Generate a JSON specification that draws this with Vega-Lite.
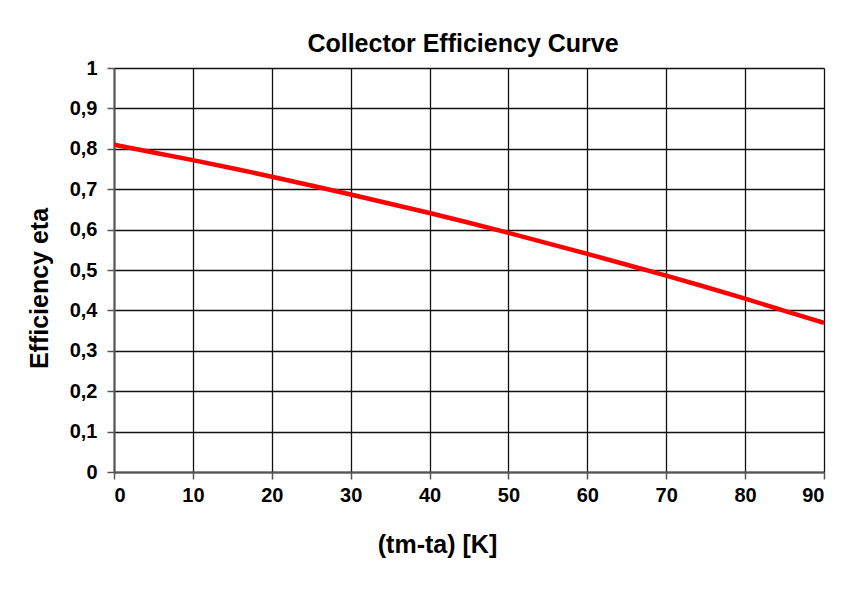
{
  "$schema": "https://vega.github.io/schema/vega-lite/v6.json",
  "autosize": {"type": "none"},
  "width": 710,
  "height": 404,
  "padding": {"left": 114, "top": 68, "right": 24, "bottom": 129},
  "background": "white",
  "title": {
    "text": "Collector Efficiency Curve",
    "font": "Liberation Sans",
    "fontSize": 25,
    "fontWeight": "bold",
    "color": "black",
    "anchor": "middle",
    "dx": -6,
    "offset": 1
  },
  "config": {
    "view": {"stroke": null},
    "axis": {
      "labelFont": "Liberation Sans",
      "labelFontWeight": "bold",
      "labelColor": "black",
      "titleFont": "Liberation Sans",
      "titleFontSize": 25,
      "titleFontWeight": "bold",
      "titleColor": "black",
      "gridColor": "#111111",
      "gridWidth": 1.3,
      "gridOpacity": 1,
      "tickColor": "#555555",
      "tickWidth": 1.5,
      "tickSize": 7,
      "domainColor": "#555555",
      "domainWidth": 2
    }
  },
  "data": {
    "values": [
      {"dt": 0, "eta": 0.810},
      {"dt": 5, "eta": 0.791},
      {"dt": 10, "eta": 0.772},
      {"dt": 15, "eta": 0.752},
      {"dt": 20, "eta": 0.731},
      {"dt": 25, "eta": 0.709},
      {"dt": 30, "eta": 0.687},
      {"dt": 35, "eta": 0.664},
      {"dt": 40, "eta": 0.641},
      {"dt": 45, "eta": 0.617},
      {"dt": 50, "eta": 0.592},
      {"dt": 55, "eta": 0.566},
      {"dt": 60, "eta": 0.540},
      {"dt": 65, "eta": 0.513},
      {"dt": 70, "eta": 0.486},
      {"dt": 75, "eta": 0.458},
      {"dt": 80, "eta": 0.429},
      {"dt": 85, "eta": 0.399},
      {"dt": 90, "eta": 0.369}
    ]
  },
  "mark": {"type": "line", "color": "#ff0000", "strokeWidth": 4.5, "clip": true},
  "encoding": {
    "x": {
      "field": "dt",
      "type": "quantitative",
      "scale": {"domain": [0, 90], "nice": false},
      "axis": {
        "title": "(tm-ta) [K]",
        "values": [0, 10, 20, 30, 40, 50, 60, 70, 80, 90],
        "labelFontSize": 20,
        "labelPadding": 6,
        "titleX": 323,
        "titleY": 72,
        "titleBaseline": "middle",
        "titleAnchor": null,
        "titleAlign": "center"
      }
    },
    "y": {
      "field": "eta",
      "type": "quantitative",
      "scale": {"domain": [0, 1], "nice": false},
      "axis": {
        "title": "Efficiency eta",
        "values": [0, 0.1, 0.2, 0.3, 0.4, 0.5, 0.6, 0.7, 0.8, 0.9, 1],
        "format": ".1~f",
        "labelExpr": "replace(datum.label, '.', ',')",
        "labelFontSize": 20,
        "labelPadding": 10,
        "titleX": -75,
        "titleY": 220,
        "titleBaseline": "middle",
        "titleAlign": "center",
        "titleAngle": 270
      }
    }
  }
}
